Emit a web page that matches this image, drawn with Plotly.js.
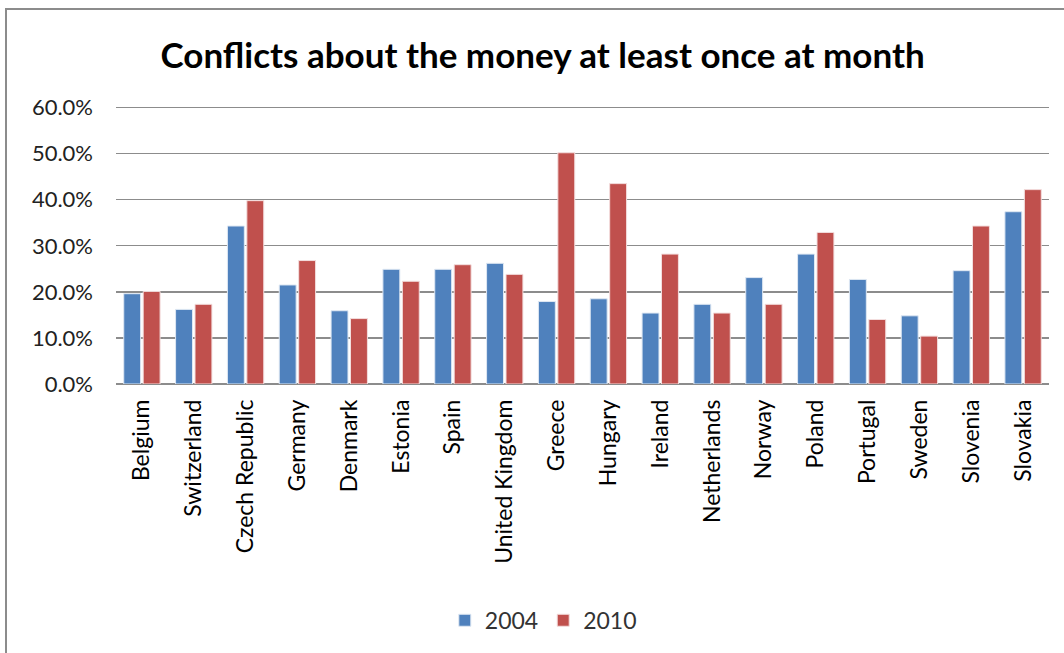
<!DOCTYPE html>
<html>
<head>
<meta charset="utf-8">
<script src="https://cdn.plot.ly/plotly-3.0.1.min.js"></script>
<style>
  html, body { margin: 0; padding: 0; background: #fff; }
  #wrap { position: relative; width: 1064px; height: 653px; overflow: hidden; }
  #frame { position: absolute; left: 5px; top: 8px; width: 1100px; height: 700px;
           border-top: 2px solid #8c8c8c; border-left: 2px solid #8c8c8c; }
  #chart { position: absolute; left: 0; top: 0; width: 1064px; height: 653px; }
</style>
</head>
<body>
<div id="wrap">
  <div id="frame"></div>
  <div id="chart"></div>
</div>
<script>
const countries = ["Belgium", "Switzerland", "Czech Republic", "Germany", "Denmark", "Estonia",
  "Spain", "United Kingdom", "Greece", "Hungary", "Ireland", "Netherlands", "Norway",
  "Poland", "Portugal", "Sweden", "Slovenia", "Slovakia"];
const values2004 = [0.196, 0.162, 0.343, 0.215, 0.159, 0.249, 0.249, 0.262, 0.179, 0.185,
  0.154, 0.173, 0.231, 0.282, 0.227, 0.148, 0.246, 0.374];
const values2010 = [0.201, 0.173, 0.398, 0.268, 0.142, 0.223, 0.259, 0.238, 0.502, 0.435,
  0.282, 0.154, 0.173, 0.329, 0.140, 0.104, 0.343, 0.422];
const seriesNames = ["2004", "2010"];
const yTickVals = [0, 0.1, 0.2, 0.3, 0.4, 0.5, 0.6];

const font = "Lato, 'Noto Sans', 'Liberation Sans', sans-serif";

const traces = [
  { type: "bar", name: seriesNames[0], x: countries, y: values2004,
    marker: { color: "#4F81BD", line: { color: "#dfe8f3", width: 1 } } },
  { type: "bar", name: seriesNames[1], x: countries, y: values2010,
    marker: { color: "#C0504D", line: { color: "#f3dede", width: 1 } } }
];

const layout = {
  width: 1064, height: 653,
  paper_bgcolor: "rgba(0,0,0,0)", plot_bgcolor: "rgba(0,0,0,0)",
  margin: { l: 116, r: 15, t: 106, b: 269, pad: 0 },
  title: { text: "Conflicts about the money at least once at month",
           font: { family: font, size: 35, color: "#000", weight: "bold" },
           x: 0.51, xanchor: "center", y: 0.915, yanchor: "middle" },
  barmode: "group", bargap: 0.25, bargroupgap: 0.13,
  showlegend: true,
  legend: { orientation: "h", x: 0.458, xanchor: "center", y: -0.85, yanchor: "middle",
            font: { family: font, size: 23, color: "#333" }, itemwidth: 30,
            traceorder: "normal" },
  xaxis: { type: "category", tickangle: -90, showgrid: false, showline: false, zeroline: false,
           ticks: "", ticklabelstandoff: 10,
           tickfont: { family: font, size: 23, color: "#000" }, fixedrange: true },
  yaxis: { range: [0, 0.6035], tickvals: yTickVals, tickformat: ".1%",
           showgrid: true, gridcolor: "#8c8c8c", gridwidth: 1.3,
           zeroline: true, zerolinecolor: "#8c8c8c", zerolinewidth: 1.3,
           showline: false, ticks: "", ticklabelstandoff: 22,
           tickfont: { family: font, size: 22, color: "#222" }, fixedrange: true }
};

Plotly.newPlot("chart", traces, layout, { displayModeBar: false, staticPlot: true });
</script>
</body>
</html>
